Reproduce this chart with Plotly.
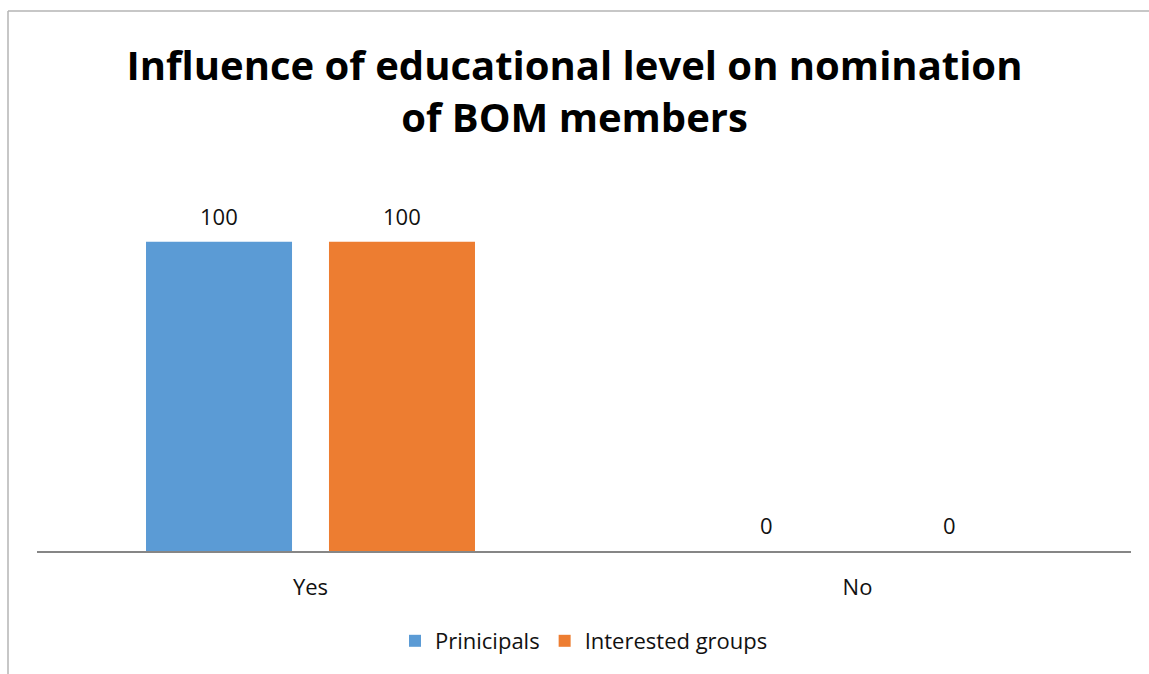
import plotly.graph_objects as go

# Chart data
categories = ["Yes", "No"]
series_names = ["Prinicipals", "Interested groups"]
principals = [100, 0]
interested_groups = [100, 0]
colors = ["#5B9BD5", "#ED7D31"]

W, H = 1149, 674
left, right, top, bottom = 37, 18, 180, 123
TEXT = "#111111"

fig = go.Figure()
series = [principals, interested_groups]
for name, vals, col in zip(series_names, series, colors):
    fig.add_trace(go.Bar(
        x=categories, y=vals, name=name, marker=dict(color=col, line=dict(width=0)),
    ))

# Value labels above each bar, offset to the bar's slot within its group
slot = 183  # px between bar centres in a group
for i, vals in enumerate(series):
    shift = (i - 0.5) * slot
    for cat, v in zip(categories, vals):
        fig.add_annotation(x=cat, y=v, text=str(v), showarrow=False,
                           xshift=shift, yshift=26, yanchor="middle",
                           font=dict(size=22, color=TEXT, family="Open Sans"))

# Outer chart border (left and top edges), in paper coordinates
pw = W - left - right
ph = H - top - bottom
def px_x(x):
    return (x - left) / pw
def px_y(y):
    return (H - bottom - y) / ph

border = dict(color="#b4b4b4", width=1.5)
fig.add_shape(type="line", xref="paper", yref="paper",
              x0=px_x(8), x1=px_x(8), y0=px_y(11), y1=px_y(H + 5), line=border)
fig.add_shape(type="line", xref="paper", yref="paper",
              x0=px_x(8), x1=px_x(W + 5), y0=px_y(11), y1=px_y(11), line=border)

fig.update_layout(
    width=W, height=H,
    margin=dict(l=left, r=right, t=top, b=bottom),
    paper_bgcolor="white", plot_bgcolor="white",
    barmode="group", bargap=0.331, bargroupgap=0.202,
    title=dict(
        text="<b>Influence of educational level on nomination<br>of BOM members</b>",
        x=0.5, xanchor="center", y=1 - 80 / H, yanchor="middle",
        font=dict(family="Open Sans", size=40, color="#000000"),
    ),
    font=dict(family="Open Sans", color=TEXT),
    xaxis=dict(showline=True, linecolor="#868686", linewidth=2, ticks="",
               ticklabelstandoff=16,
               tickfont=dict(size=22, color=TEXT), showgrid=False),
    yaxis=dict(range=[0, 120], visible=False, showgrid=False, zeroline=False),
    legend=dict(orientation="h", x=0.5, xanchor="center", y=px_y(641), yanchor="middle",
                font=dict(size=22, color=TEXT), itemwidth=30,
                traceorder="normal"),
)

fig.write_html("out.html")
